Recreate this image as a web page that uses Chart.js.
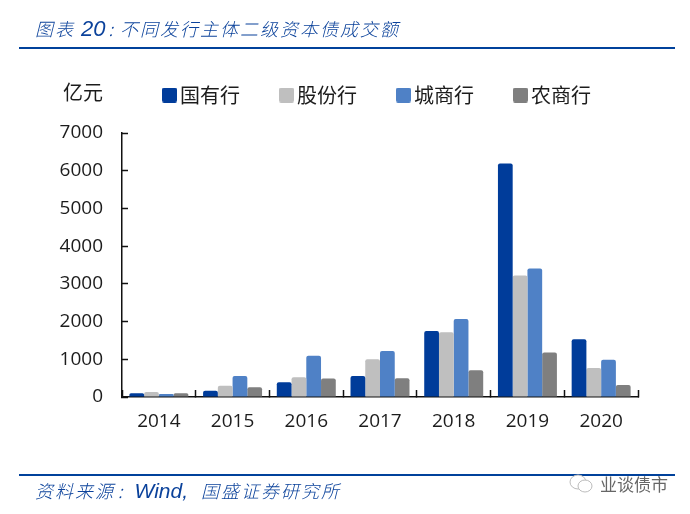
<!DOCTYPE html>
<html><head><meta charset="utf-8">
<script src="https://cdn.jsdelivr.net/npm/chart.js@4"></script>
<style>
html,body{margin:0;padding:0;background:#fff;}
#wrap{position:relative;width:690px;height:514px;overflow:hidden;font-family:"Noto Sans CJK SC",sans-serif;}
canvas{position:absolute;left:0;top:0;}
.t{position:absolute;white-space:nowrap;line-height:1;}
.cap{color:#0B429B;font-style:italic;font-weight:300;font-size:18px;letter-spacing:2px;}
.lat{font-family:'Liberation Sans';letter-spacing:0;}
.rule{position:absolute;left:19px;width:656px;height:2px;background:#00419B;}
</style></head><body>
<div id="wrap">
<canvas id="c" width="690" height="514" style="width:690px;height:514px"></canvas>
<div class="t cap" style="left:35px;top:18px;">图表 <span class="lat" style="font-size:22px">20</span><span style="margin-left:3px">:</span><span style="margin-left:5px">不同发行主体二级资本债成交额</span></div>
<div class="rule" style="top:47px"></div>
<div class="t" style="left:63px;top:82px;font-size:20px;color:#1c1c1c;">亿元</div>
<div class="rule" style="top:474px"></div>
<div class="t cap" style="left:35px;top:480px;">资料来源<span style="margin-left:3px">:</span><span class="lat" style="font-size:21px;margin-left:10px">Wind,</span><span style="margin-left:13px">国盛证券研究所</span></div>
<svg style="position:absolute;left:567px;top:471px" width="30" height="26"><ellipse cx="11" cy="11" rx="8" ry="7" fill="#fff" stroke="#bbb"/><ellipse cx="18" cy="15" rx="7" ry="6" fill="#fff" stroke="#bbb"/></svg>
<div class="t" style="left:600px;top:475px;font-size:17px;color:#666;">业谈债市</div>
</div>
<script>
const categories = ['2014','2015','2016','2017','2018','2019','2020'];
const yTicks = [0,1000,2000,3000,4000,5000,6000,7000];
const stateBanks = [100,165,390,560,1750,6190,1530];
const jointBanks = [130,295,525,1000,1720,3220,770];
const cityBanks = [80,560,1095,1220,2070,3410,990];
const ruralBanks = [100,260,490,495,710,1180,320];
const seriesNames = ['国有行','股份行','城商行','农商行'];
const seriesColors = ['#003C9A','#BFBFBF','#4F81C6','#7F7F7F'];
const seriesValues = [stateBanks,jointBanks,cityBanks,ruralBanks];

function swatch(color){
  const cv = document.createElement('canvas');
  cv.width = 15; cv.height = 15;
  const g = cv.getContext('2d');
  g.fillStyle = color;
  g.beginPath(); g.roundRect(0,0,15,15,2); g.fill();
  return cv;
}
const legendRoom = {
  id:'legendRoom',
  beforeInit(chart){
    const orig = chart.legend.fit;
    chart.legend.fit = function(){ orig.call(this); this.height = 94; };
  }
};
new Chart(document.getElementById('c'),{
  type:'bar',
  data:{labels:categories,datasets:seriesNames.map((n,i)=>({label:n,data:seriesValues[i],backgroundColor:seriesColors[i],borderRadius:2,borderSkipped:'bottom',categoryPercentage:0.8,barPercentage:1}))},
  plugins:[legendRoom],
  options:{
    responsive:false,animation:false,
    layout:{padding:{top:39,right:52,left:0,bottom:0}},
    plugins:{
      tooltip:{enabled:false},
      legend:{display:true,position:'top',fullSize:false,
        labels:{usePointStyle:true,pointStyleWidth:1,boxHeight:15,padding:46,color:'#1c1c1c',font:{family:'"Noto Sans CJK SC"',size:20},
          generateLabels(chart){
            return Chart.defaults.plugins.legend.labels.generateLabels(chart).map((l,i)=>({...l,pointStyle:swatch(seriesColors[i])}));
          }}}
    },
    scales:{
      x:{grid:{drawOnChartArea:false,tickLength:-7,tickWidth:1.5,tickColor:'#111'},border:{color:'#111',width:1.5},
        ticks:{color:'#1c1c1c',font:{family:'"Open Sans"',size:19},padding:20,maxRotation:0},
        afterFit(s){s.height=117;}},
      y:{min:0,max:7000,afterBuildTicks(s){s.ticks=yTicks.map(v=>({value:v}));},
        grid:{drawOnChartArea:false,tickLength:-6,tickWidth:1.5,tickColor:'#111'},border:{color:'#111',width:1.5},
        ticks:{color:'#1c1c1c',font:{family:'"Open Sans"',size:19},padding:25,callback:v=>String(v)},
        afterFit(s){s.width=122;}}
    }
  }
});
</script>
</body></html>
